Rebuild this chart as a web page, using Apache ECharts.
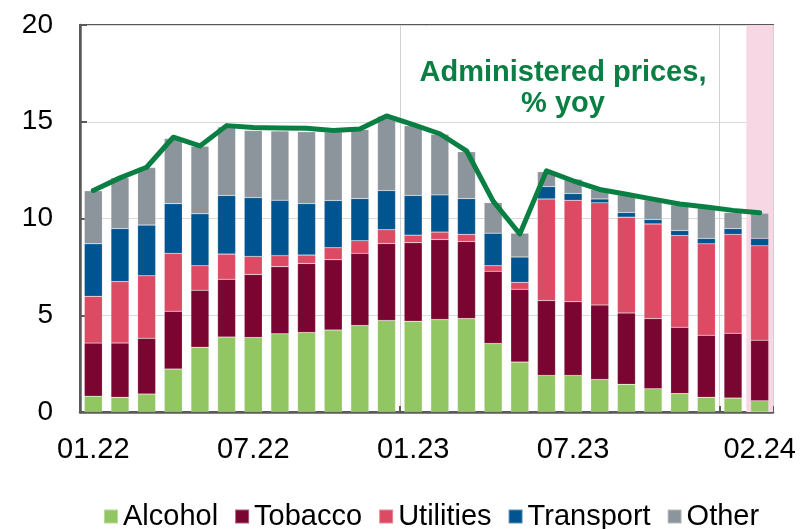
<!DOCTYPE html>
<html>
<head>
<meta charset="utf-8">
<script src="https://cdn.jsdelivr.net/npm/echarts@6/dist/echarts.min.js"></script>
<style>
  html, body { margin: 0; padding: 0; background: #fff; }
  #chart { width: 800px; height: 529px; }
</style>
</head>
<body>
<div id="chart"></div>
<script>
// months 01.22 .. 02.24
const months = ["01.22","02.22","03.22","04.22","05.22","06.22","07.22","08.22","09.22","10.22","11.22","12.22",
  "01.23","02.23","03.23","04.23","05.23","06.23","07.23","08.23","09.23","10.23","11.23","12.23","01.24","02.24"];
const shownLabels = ["01.22","07.22","01.23","07.23","02.24"];

// contributions, pp
const alcohol   = [0.82,0.76,0.93,2.22,3.35,3.87,3.85,4.04,4.11,4.24,4.47,4.73,4.69,4.78,4.83,3.54,2.58,1.89,1.89,1.68,1.43,1.20,0.95,0.76,0.72,0.58];
const tobacco   = [2.74,2.80,2.88,2.99,2.94,2.99,3.26,3.47,3.57,3.63,3.73,3.98,4.06,4.14,3.98,3.73,3.76,3.87,3.81,3.85,3.69,3.63,3.43,3.21,3.35,3.13];
const utilities = [2.42,3.18,3.23,2.99,1.27,1.30,0.93,0.57,0.43,0.62,0.65,0.71,0.39,0.38,0.37,0.29,0.36,5.25,5.24,5.28,4.95,4.89,4.74,4.72,5.11,4.88];
const transport = [2.71,2.74,2.62,2.57,2.68,3.03,3.04,2.86,2.66,2.44,2.18,2.02,2.05,1.92,1.85,1.68,1.31,0.64,0.35,0.20,0.24,0.23,0.26,0.28,0.30,0.38];
const other     = [2.74,2.63,2.97,3.37,3.49,3.54,3.47,3.58,3.71,3.54,3.57,3.84,3.60,3.13,2.42,1.58,1.23,0.77,0.74,0.50,0.91,1.01,1.32,1.60,0.83,1.30];
// administered prices, % yoy
const total     = [11.45,12.1,12.65,14.2,13.75,14.8,14.7,14.68,14.66,14.55,14.62,15.3,14.85,14.38,13.5,10.9,9.2,12.46,11.95,11.5,11.25,11.0,10.75,10.6,10.42,10.3];

const font = '"Liberation Sans", Arial, sans-serif';
const axisColor = '#595959';

const chart = echarts.init(document.getElementById('chart'));

function barSeries(name, data, color) {
  return {
    name: name,
    type: 'bar',
    stack: 'total',
    data: data,
    barWidth: 18,
    itemStyle: { color: color, borderColor: 'rgba(255,255,255,0.35)', borderWidth: 0.5 },
    emphasis: { disabled: true },
    z: 3
  };
}

chart.setOption({
  animation: false,
  textStyle: { fontFamily: font },
  grid: {
    left: 80, right: 27, top: 25, bottom: 117,
    show: true, borderColor: axisColor, borderWidth: 2, backgroundColor: 'transparent'
  },
  legend: {
    data: ['Alcohol', 'Tobacco', 'Utilities', 'Transport', 'Other'],
    left: 103, top: 502, padding: 0,
    icon: 'rect', itemWidth: 14, itemHeight: 14, itemGap: 16,
    textStyle: { fontSize: 29, color: '#000', fontFamily: font }
  },
  xAxis: [
    {
      type: 'category',
      data: months,
      axisLine: { lineStyle: { color: axisColor, width: 2.5 } },
      axisTick: { show: false },
      axisLabel: {
        fontSize: 29, color: '#000', margin: 23, fontFamily: font,
        interval: (i, v) => shownLabels.indexOf(v) >= 0
      },
      splitLine: { show: false }
    },
    {
      type: 'value',
      position: 'bottom',
      min: 0, max: 26, interval: 12,
      axisLine: { show: false },
      axisLabel: { show: false },
      axisTick: { show: true, inside: true, length: 6, lineStyle: { color: axisColor, width: 2 } },
      splitLine: { show: true, lineStyle: { color: '#cfd2d4', width: 1 } }
    }
  ],
  yAxis: {
    type: 'value',
    min: 0, max: 20, interval: 5,
    axisLine: { show: true, lineStyle: { color: axisColor, width: 2.5 } },
    axisTick: { show: true, inside: true, length: 7, lineStyle: { color: axisColor, width: 2 } },
    axisLabel: { fontSize: 28, color: '#000', margin: 27, fontFamily: font },
    splitLine: { lineStyle: { color: '#d9d9d9', width: 1 } }
  },
  series: [
    {
      name: 'band',
      type: 'line',
      xAxisIndex: 1,
      data: [],
      z: 1,
      markArea: {
        silent: true,
        itemStyle: { color: '#f8d7e4' },
        data: [[{ xAxis: 25 }, { xAxis: 26 }]]
      }
    },
    barSeries('Alcohol', alcohol, '#92c663'),
    barSeries('Tobacco', tobacco, '#7a0530'),
    barSeries('Utilities', utilities, '#dc4a64'),
    barSeries('Transport', transport, '#00548f'),
    barSeries('Other', other, '#8d959c'),
    {
      name: 'Administered prices',
      type: 'line',
      data: total,
      symbol: 'none',
      lineStyle: { color: '#0a7f43', width: 5, join: 'round', cap: 'round' },
      z: 5
    }
  ],
  graphic: [
    {
      type: 'text',
      x: 563, y: 88,
      style: {
        text: 'Administered prices,\n% yoy',
        fill: '#0a7f43',
        font: 'bold 29px ' + font,
        align: 'center',
        verticalAlign: 'middle',
        lineHeight: 31
      }
    }
  ]
});
</script>
</body>
</html>
